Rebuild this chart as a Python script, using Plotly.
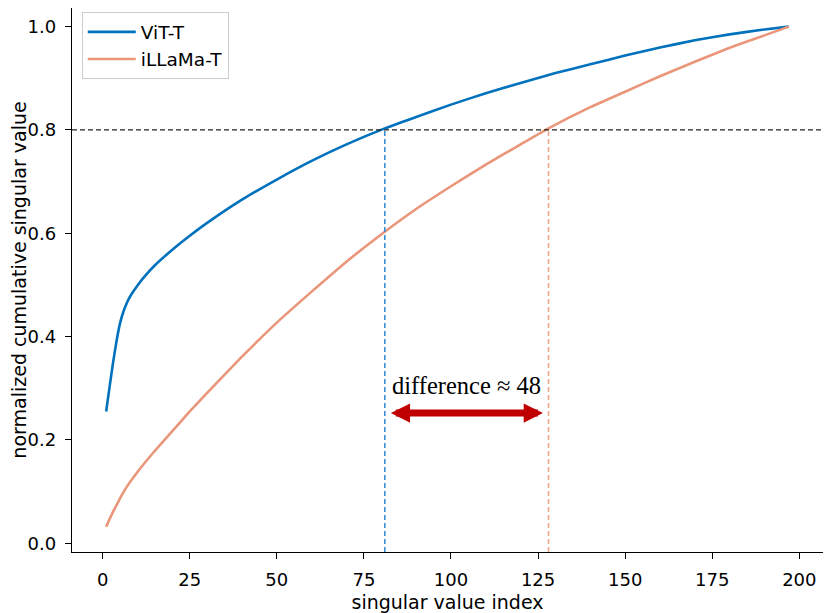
import plotly.graph_objects as go

vit_x = [1, 2, 3, 4, 5, 6, 7, 8, 10, 12, 15, 20, 25, 30, 40, 50, 60, 70, 81, 90,
         100, 110, 120, 130, 140, 150, 160, 170, 180, 190, 197]
vit_y = [0.255, 0.303, 0.35, 0.392, 0.426, 0.449, 0.466, 0.479, 0.499, 0.516, 0.538,
         0.568, 0.595, 0.620, 0.665, 0.704, 0.740, 0.772, 0.803, 0.825, 0.849,
         0.871, 0.891, 0.910, 0.927, 0.944, 0.9595, 0.9735, 0.985, 0.9945, 1.0]

illama_x = [1, 2, 3, 4, 5, 7, 10, 15, 20, 25, 30, 40, 50, 60, 70, 81, 90, 100, 110,
            120, 128, 140, 150, 160, 170, 180, 190, 197]
illama_y = [0.032, 0.047, 0.061, 0.074, 0.087, 0.110, 0.138, 0.179, 0.217, 0.255,
            0.291, 0.361, 0.427, 0.487, 0.545, 0.603, 0.647, 0.691, 0.733, 0.772,
            0.803, 0.844, 0.874, 0.904, 0.932, 0.959, 0.983, 1.0]

threshold = 0.8
vit_cross = 81
illama_cross = 128
arrow_from, arrow_to, arrow_y = 82.3, 126.4, 0.252
label = "difference \u2248 48"

BLUE = "#0072BD"
SALMON = "#E9967A"
xrange_ = [-8.8, 206.8]
yrange_ = [-0.017, 1.036]

fig = go.Figure()
fig.add_trace(go.Scatter(x=vit_x, y=vit_y, mode="lines", name="ViT-T",
                         line=dict(color=BLUE, width=2.6, shape="spline", smoothing=0.4)))
fig.add_trace(go.Scatter(x=illama_x, y=illama_y, mode="lines", name="iLLaMa-T",
                         line=dict(color=SALMON, width=2.6, shape="spline", smoothing=0.4)))

# 0.8 reference lines
fig.add_shape(type="line", xref="paper", x0=0, x1=1, yref="y", y0=threshold, y1=threshold,
              line=dict(color="#222222", width=1.3, dash="5px,3px"))
fig.add_shape(type="line", x0=vit_cross, x1=vit_cross, y0=yrange_[0], y1=threshold,
              line=dict(color="#3A8FD4", width=1.6, dash="5px,3px"))
fig.add_shape(type="line", x0=illama_cross, x1=illama_cross, y0=yrange_[0], y1=threshold,
              line=dict(color="#F0A88A", width=1.6, dash="5px,3px"))

fig.add_annotation(x=arrow_to, y=arrow_y, ax=arrow_from, ay=arrow_y,
                   xref="x", yref="y", axref="x", ayref="y", text="",
                   showarrow=True, arrowside="end+start", arrowhead=2,
                   arrowsize=0.55, arrowwidth=7, arrowcolor="#C00000")
fig.add_annotation(x=(arrow_from + arrow_to) / 2, y=0.305, text=label, showarrow=False,
                   font=dict(family="Liberation Serif", size=24.5, color="black"))

axis_common = dict(showline=True, linecolor="black", linewidth=1.3, mirror=True,
                   ticks="outside", ticklen=6, tickwidth=1.3, tickcolor="black",
                   showgrid=False, zeroline=False, automargin=False,
                   ticklabelstandoff=5,
                   tickfont=dict(size=18, color="black"),
                   title_font=dict(size=19, color="black"))

fig.update_xaxes(range=xrange_, tickvals=[0, 25, 50, 75, 100, 125, 150, 175, 200],
                 title_text="singular value index", title_standoff=6, **axis_common)
fig.update_yaxes(range=yrange_, tickvals=[0, 0.2, 0.4, 0.6, 0.8, 1.0], tickformat=".1f",
                 title_text="normalized cumulative singular value", title_standoff=8, **axis_common)

# page body has an 8px margin, so the figure is sized to fit the window
fig.update_layout(
    width=823, height=605,
    margin=dict(l=64, r=8, t=0, b=61),
    plot_bgcolor="white", paper_bgcolor="white",
    font=dict(family="DejaVu Sans", color="black"),
    legend=dict(x=0.013, y=0.992, xanchor="left", yanchor="top",
                bgcolor="rgba(255,255,255,0.8)", bordercolor="#cccccc", borderwidth=1,
                font=dict(size=18.5), itemwidth=48, tracegroupgap=0),
    showlegend=True,
)

fig.write_html("out.html")
